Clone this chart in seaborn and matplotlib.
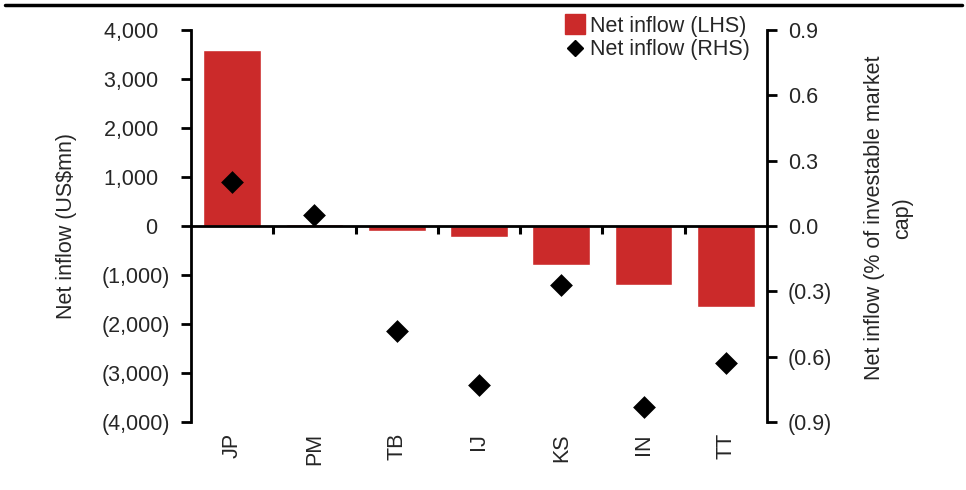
import numpy as np
import matplotlib.pyplot as plt
import pandas as pd
import seaborn as sns
from matplotlib.lines import Line2D
from matplotlib.ticker import FuncFormatter

countries = ['JP', 'PM', 'TB', 'IJ', 'KS', 'IN', 'TT']
inflow_usd = [3600, 50, -110, -220, -800, -1200, -1650]
inflow_pct = [0.20, 0.05, -0.48, -0.73, -0.27, -0.83, -0.63]
legend_labels = ['Net inflow (LHS)', 'Net inflow (RHS)']

sns.set_theme(style='white')
plt.rcParams['font.family'] = ['Liberation Sans', 'DejaVu Sans']

red = '#CB2A2A'
txt = '#262626'
fs = 15.5
df = pd.DataFrame({'country': countries, 'usd': inflow_usd, 'pct': inflow_pct})

fig = plt.figure(figsize=(9.66, 4.9), dpi=100)
ax = fig.add_axes([0.1977, 0.1388, 0.5963, 0.80])

sns.barplot(data=df, x='country', y='usd', color=red, width=0.7,
            saturation=1, ax=ax)
ax2 = ax.twinx()
sns.scatterplot(data=df, x='country', y='pct', marker='D', s=135,
                color='black', edgecolor='black', linewidth=0, ax=ax2)

ax.set_xlim(-0.5, len(countries) - 0.5)
ax.set_ylim(-4000, 4000)
ax2.set_ylim(-0.9, 0.9)
ax.set_yticks(np.arange(-4000, 4001, 1000))
ax2.set_yticks(np.linspace(-0.9, 0.9, 7))


def fmt_usd(v, pos):
    v = int(round(v))
    return f'({abs(v):,})' if v < 0 else f'{v:,}  '


def fmt_pct(v, pos):
    return f'({abs(v):.1f})' if v < -1e-9 else f'{abs(v):.1f}'


ax.yaxis.set_major_formatter(FuncFormatter(fmt_usd))
ax2.yaxis.set_major_formatter(FuncFormatter(fmt_pct))

# spines
for s in ['top', 'right']:
    ax.spines[s].set_visible(False)
for s in ['top', 'left', 'bottom']:
    ax2.spines[s].set_visible(False)
ax.spines['bottom'].set_position(('data', 0))
for sp in [ax.spines['left'], ax.spines['bottom'], ax2.spines['right']]:
    sp.set_color('black')
    sp.set_linewidth(2)

# boundary ticks on zero line, category labels at the bottom
ax.set_xticks(np.arange(0.5, len(countries) - 1, 1))
ax.tick_params(axis='x', length=6, width=2.2, direction='out', color='black',
               labelbottom=False, bottom=True)
sec = ax.secondary_xaxis('bottom')
sec.set_xticks(range(len(countries)), countries, rotation=90)
sec.tick_params(length=0, pad=8, labelsize=fs, labelcolor=txt)
sec.spines['bottom'].set_visible(False)

ax.tick_params(axis='y', length=7, width=2, direction='out', color='black',
               left=True, pad=8, labelsize=fs, labelcolor=txt)
ax2.tick_params(axis='y', length=7, width=2, direction='out', color='black',
                right=True, pad=8, labelsize=fs, labelcolor=txt)

ax.set_xlabel('')
ax2.set_xlabel('')
ax.set_ylabel('Net inflow (US$mn)', fontsize=fs, color=txt)
ax2.set_ylabel('Net inflow (% of investable market\ncap)', fontsize=fs,
               color=txt, multialignment='center', linespacing=1.45)
ax.yaxis.set_label_coords(-0.198, 0.5)
ax2.yaxis.set_label_coords(1.168, 0.52)

handles = [Line2D([], [], marker='s', ls='none', color=red, markersize=14),
           Line2D([], [], marker='D', ls='none', color='black', markersize=8)]
fig.legend(handles, legend_labels, loc='upper right',
           bbox_to_anchor=(750 / 966, 1 - 16 / 490), frameon=False,
           fontsize=fs, handlelength=0.8, handletextpad=0.3,
           labelspacing=0.1, borderpad=0, borderaxespad=0, labelcolor=txt)

fig.add_artist(Line2D([0.005, 0.996], [0.989, 0.989], transform=fig.transFigure,
                      color='black', lw=2.5))

fig.savefig('out.png', dpi=100)
